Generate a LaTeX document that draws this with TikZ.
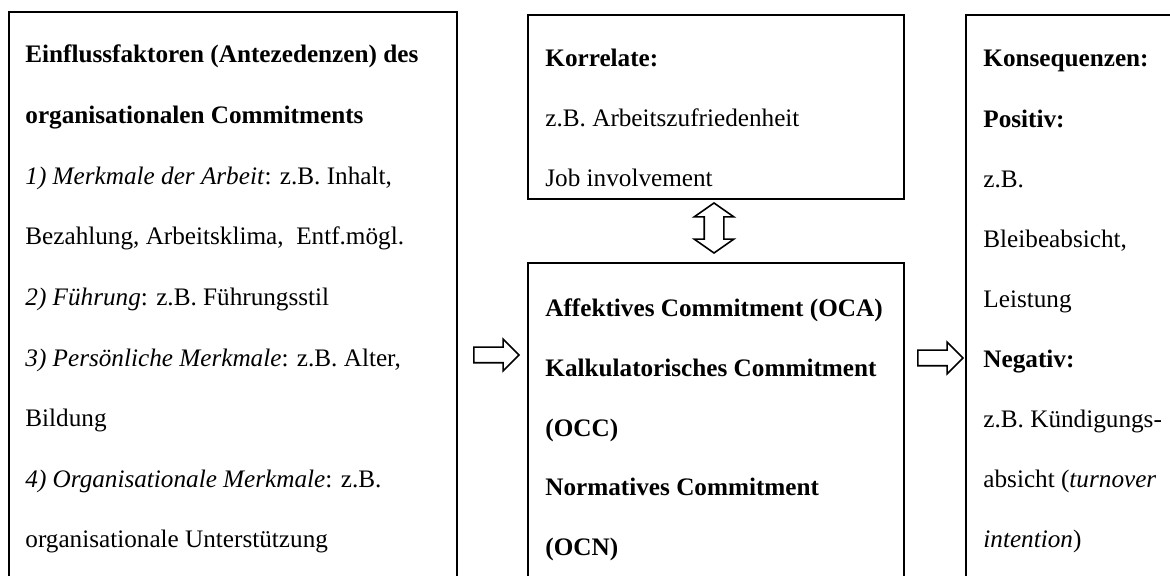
\documentclass[tikz,border=0pt]{standalone}
\usepackage{fontspec}
\setmainfont{Liberation Serif}
\usetikzlibrary{fit,shapes.arrows}

\begin{document}
\begin{tikzpicture}[x=0.5pt,y=-0.5pt,
  box/.style={draw=black,line width=1pt,inner sep=0pt,rectangle},
  txt/.style={anchor=base west,inner sep=0pt,font=\fontsize{12.6pt}{15pt}\selectfont},
  harrow/.style={single arrow,draw=black,line width=0.8pt,fill=white,
    inner sep=0pt,inner ysep=3.5pt,single arrow head extend=4pt,
    single arrow tip angle=90,minimum height=22.5pt},
  varrow/.style={double arrow,draw=black,line width=0.8pt,fill=white,
    inner sep=0pt,inner ysep=4.5pt,double arrow head extend=5pt,
    double arrow tip angle=110,minimum height=25pt,rotate=90}]
\useasboundingbox (0,0) rectangle (1170,576);
\clip (0,0) rectangle (1170,576);

% the four frames (they run on past the lower edge)
\node[box,fit={(8.5,12) (457,640)}] (ante) {};
\node[box,fit={(528,15) (904,199)}] (korr) {};
\node[box,fit={(528,263) (904,640)}] (comm) {};
\node[box,fit={(966,15) (1240,640)}] (kons) {};

% antecedents
\foreach \t [count=\i from 0] in {
  {\hbox to 196.5pt{\bfseries Einflussfaktoren (Antezedenzen)\hfill des}},
  {\textbf{organisationalen Commitments}},
  {\textit{1) Merkmale der Arbeit}: z.B. Inhalt,},
  {Bezahlung, Arbeitsklima,\ \ Entf.mögl.},
  {\textit{2) Führung}: z.B. Führungsstil},
  {\textit{3) Persönliche Merkmale}: z.B. Alter,},
  {Bildung},
  {\textit{4) Organisationale Merkmale}: z.B.},
  {organisationale Unterstützung}}
  \node[txt] (a\i) at (25,63+60.6*\i) {\t};

% correlates
\foreach \t [count=\i from 0] in {
  {\textbf{Korrelate:}},
  {z.B. Arbeitszufriedenheit},
  {Job involvement}}
  \node[txt] (k\i) at (545,67+60*\i) {\t};

% commitment components
\foreach \t [count=\i from 0] in {
  {\textbf{Affektives Commitment (OCA)}},
  {\textbf{Kalkulatorisches Commitment}},
  {\textbf{(OCC)}},
  {\textbf{Normatives Commitment}},
  {\textbf{(OCN)}}}
  \node[txt] (c\i) at (545,317+59.5*\i) {\t};

% consequences
\foreach \t [count=\i from 0] in {
  {\textbf{Konsequenzen:}},
  {\textbf{Positiv:}},
  {z.B.},
  {Bleibeabsicht,},
  {Leistung},
  {\textbf{Negativ:}},
  {z.B. Kündigungs-},
  {absicht (\textit{turnover}},
  {\textit{intention})}}
  \node[txt] (q\i) at (983,67+60.1*\i) {\t};

% block arrows between the frames
\node[harrow] (ante2comm) at (492.5,355) {};
\node[harrow] (comm2kons) at (936.5,358) {};
\node[varrow] (korr2comm) at (714,228) {};
\end{tikzpicture}
\end{document}
